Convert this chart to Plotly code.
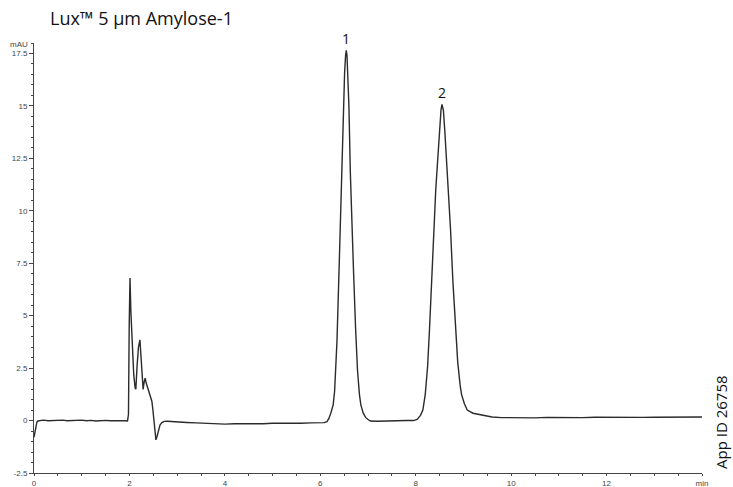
import plotly.graph_objects as go

# Retention time (min) and detector signal (mAU)
time_min = [
    0.00, 0.02, 0.04, 0.06, 0.08, 0.12, 0.20, 0.30, 0.40, 0.50, 0.60, 0.70, 0.80, 0.90,
    1.00, 1.10, 1.20, 1.30, 1.40, 1.50, 1.60, 1.70, 1.80, 1.90, 1.96,
    1.98, 1.995, 2.012, 2.03, 2.06, 2.09, 2.12, 2.135, 2.16, 2.19, 2.22, 2.245, 2.27,
    2.287, 2.31, 2.33, 2.35, 2.38, 2.41, 2.44, 2.47, 2.49, 2.51, 2.53, 2.555, 2.58,
    2.61, 2.64, 2.68, 2.73, 2.80, 2.90, 3.00, 3.20, 3.40, 3.60, 3.80, 4.00, 4.20,
    4.40, 4.60, 4.80, 5.00, 5.20, 5.40, 5.60, 5.80, 6.00, 6.08, 6.14, 6.18, 6.22,
    6.27, 6.30, 6.32, 6.35, 6.39, 6.42, 6.45, 6.48, 6.51, 6.53, 6.545, 6.56, 6.58,
    6.60, 6.63, 6.66, 6.70, 6.74, 6.78, 6.82, 6.85, 6.90, 6.95, 7.00, 7.05, 7.20,
    7.40, 7.60, 7.80, 7.95, 8.03, 8.10, 8.15, 8.20, 8.25, 8.29, 8.33, 8.38, 8.42,
    8.46, 8.50, 8.53, 8.55, 8.58, 8.61, 8.65, 8.69, 8.73, 8.78, 8.83, 8.88, 8.93,
    8.96, 9.02, 9.08, 9.20, 9.40, 9.60, 9.80, 10.00, 10.25, 10.50, 10.75, 11.00,
    11.25, 11.50, 11.75, 12.00, 12.25, 12.50, 12.75, 13.00, 13.25, 13.50, 13.75, 14.00,
]
signal_mau = [
    -0.80, -0.55, -0.25, -0.08, -0.02, 0.00, 0.02, -0.01, 0.01, 0.00, 0.02, -0.01, 0.01, 0.00,
    0.02, -0.01, 0.01, -0.02, 0.00, 0.01, -0.01, 0.00, -0.02, -0.01, -0.02,
    0.30, 4.50, 6.80, 5.20, 3.40, 2.20, 1.55, 1.50, 2.60, 3.50, 3.85, 3.00, 1.90,
    1.48, 1.85, 2.02, 1.80, 1.55, 1.35, 1.15, 0.92, 0.55, 0.00, -0.50, -0.92, -0.75,
    -0.45, -0.22, -0.10, -0.04, -0.03, -0.05, -0.07, -0.09, -0.11, -0.13, -0.15, -0.17, -0.15,
    -0.16, -0.14, -0.15, -0.13, -0.14, -0.12, -0.13, -0.11, -0.11, -0.10, -0.05, 0.10, 0.35,
    0.75, 1.40, 2.30, 3.80, 6.90, 9.60, 12.00, 14.60, 16.60, 17.40, 17.65, 17.40, 16.50,
    15.00, 11.80, 9.30, 6.90, 4.40, 2.40, 1.25, 0.75, 0.35, 0.15, 0.05, -0.02, -0.03,
    -0.01, -0.02, 0.00, 0.00, 0.05, 0.25, 0.50, 1.25, 2.60, 4.40, 6.70, 9.30, 11.00,
    12.40, 13.90, 14.80, 15.07, 14.80, 13.80, 12.30, 10.60, 9.10, 6.60, 4.40, 2.80, 1.70,
    1.25, 0.80, 0.50, 0.35, 0.25, 0.17, 0.14, 0.13, 0.14, 0.13, 0.15, 0.14,
    0.15, 0.14, 0.16, 0.15, 0.15, 0.16, 0.15, 0.16, 0.17, 0.16, 0.17, 0.17,
]

x_tick_vals = [0, 2, 4, 6, 8, 10, 12, 14]
x_tick_text = ["0", "2", "4", "6", "8", "10", "12", "min"]
y_tick_vals = [-2.5, 0, 2.5, 5, 7.5, 10, 12.5, 15, 17.5]
y_tick_text = ["-2.5", "0", "2.5", "5", "7.5", "10", "12.5", "15", "17.5"]

peak_labels = ["1", "2"]
peak_times = [6.545, 8.55]
peak_heights = [17.65, 15.07]

title_text = "Lux™ 5 µm Amylose-1"
app_id_text = "App ID 26758"

axis_color = "#444444"
tick_font = dict(family="Liberation Sans, Arial, sans-serif", size=8, color="#444444")
label_font_family = "Open Sans, Lato, sans-serif"

fig = go.Figure()
fig.add_trace(go.Scatter(
    x=time_min, y=signal_mau, mode="lines",
    line=dict(color="#2b2b2b", width=1.4),
    showlegend=False, hoverinfo="skip",
))

M_T, M_B = 43, 14
fig.update_layout(
    width=733, height=487,
    margin=dict(l=34, r=31, t=M_T, b=M_B, autoexpand=False),
    paper_bgcolor="white", plot_bgcolor="white",
    showlegend=False,
)
fig.update_xaxes(
    range=[0, 14], showgrid=False, zeroline=False,
    showline=True, linecolor=axis_color, linewidth=1,
    ticks="outside", ticklen=2, tickcolor=axis_color, tickwidth=1,
    tickvals=x_tick_vals, ticktext=x_tick_text, tickfont=tick_font,
    minor=dict(dtick=0.5, ticks="outside", ticklen=2, tickcolor=axis_color, showgrid=False),
)
fig.update_yaxes(
    range=[-2.5, 18], showgrid=False, zeroline=False,
    showline=True, linecolor=axis_color, linewidth=1,
    ticks="outside", ticklen=4, tickcolor=axis_color, tickwidth=1,
    tickvals=y_tick_vals, ticktext=y_tick_text, tickfont=tick_font,
    minor=dict(dtick=0.5, tick0=0, ticks="outside", ticklen=2.5, tickcolor=axis_color, showgrid=False),
)

bottom_px = 487 - M_B
plot_h = 487 - M_T - M_B
annotations = [
    dict(text=title_text, xref="paper", yref="paper", x=(48 - 34) / 668, y=(bottom_px - 18) / plot_h,
         xanchor="left", yanchor="middle", showarrow=False,
         font=dict(family=label_font_family, size=18, color="#111111")),
    dict(text="mAU", xref="paper", yref="paper", x=-4 / 668, y=(bottom_px - 44) / plot_h,
         xanchor="right", yanchor="middle", showarrow=False, font=tick_font),
    dict(text=app_id_text, xref="paper", yref="paper", x=(721 - 34) / 668, y=(bottom_px - 422) / plot_h,
         xanchor="center", yanchor="middle", textangle=-90, showarrow=False,
         font=dict(family=label_font_family, size=15, color="#111111")),
]
for lab, t, h in zip(peak_labels, peak_times, peak_heights):
    annotations.append(dict(text=lab, x=t, y=h, xref="x", yref="y", xanchor="center",
                            yanchor="bottom", yshift=0, showarrow=False,
                            font=dict(family=label_font_family, size=14, color="#111111")))
fig.update_layout(annotations=annotations)

fig.write_html("out.html", config={"displayModeBar": False},
               post_script="document.body.style.margin='0';")
